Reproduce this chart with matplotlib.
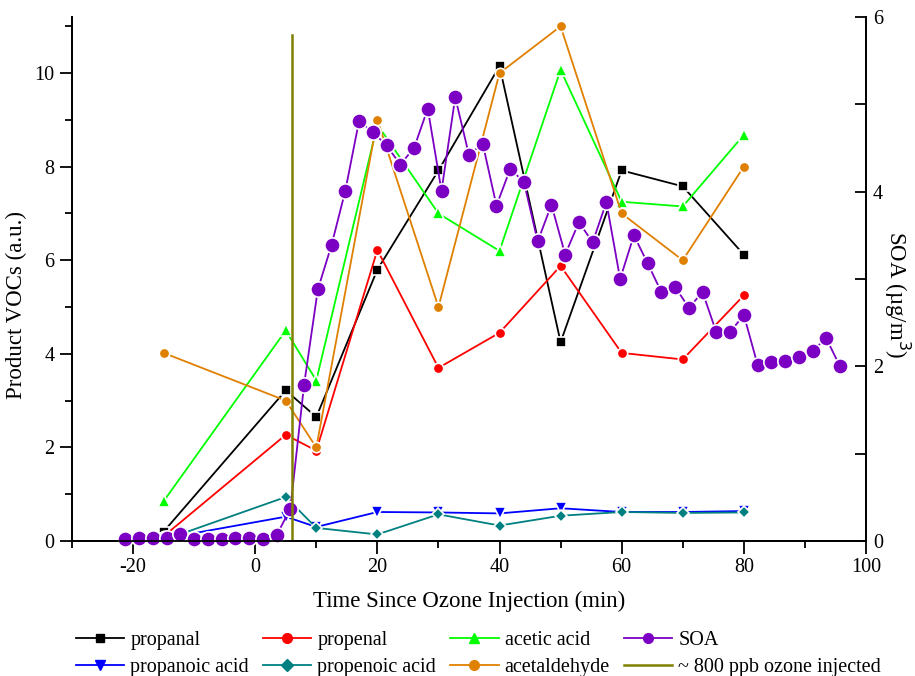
import numpy as np
import matplotlib.pyplot as plt
from matplotlib.lines import Line2D
from matplotlib.ticker import MultipleLocator

plt.rcParams['font.family'] = ['Liberation Serif', 'DejaVu Serif']

# VOC sampling times (min) and product signals (a.u.)
t_voc = [-15, 5, 10, 20, 30, 40, 50, 60, 70, 80]
propanal = [0.20, 3.22, 2.65, 5.80, 7.92, 10.15, 4.25, 7.92, 7.58, 6.12]
propenal = [0.10, 2.27, 1.93, 6.22, 3.70, 4.45, 5.88, 4.02, 3.88, 5.25]
acetic_acid = [0.85, 4.50, 3.43, 8.90, 7.00, 6.20, 10.07, 7.25, 7.15, 8.68]
acetaldehyde = [4.02, 3.00, 2.00, 9.00, 5.00, 10.00, 11.00, 7.00, 6.00, 8.00]
propanoic_acid = [0.05, 0.52, 0.30, 0.62, 0.61, 0.59, 0.70, 0.62, 0.62, 0.64]
propenoic_acid = [0.02, 0.94, 0.28, 0.14, 0.57, 0.33, 0.54, 0.62, 0.60, 0.61]

# SOA mass (ug/m3)
t_soa = [-21.25, -19.0, -16.75, -14.5, -12.25, -10.0, -7.75, -5.5, -3.25, -1.0,
         1.25, 3.5, 5.75, 8.0, 10.25, 12.5, 14.75, 17.0, 19.25, 21.5,
         23.75, 26.0, 28.25, 30.5, 32.75, 35.0, 37.25, 39.5, 41.75, 44.0,
         46.25, 48.5, 50.75, 53.0, 55.25, 57.5, 59.75, 62.0, 64.25, 66.5,
         68.75, 71.0, 73.25, 75.5, 77.75, 80.0, 82.25, 84.5, 86.75, 89.0,
         91.25, 93.5, 95.75]
soa = [0.02, 0.04, 0.04, 0.04, 0.08, 0.02, 0.02, 0.02, 0.04, 0.04,
       0.02, 0.065, 0.37, 1.79, 2.88, 3.39, 4.01, 4.81, 4.68, 4.53,
       4.31, 4.50, 4.95, 4.01, 5.08, 4.42, 4.55, 3.84, 4.26, 4.11,
       3.43, 3.85, 3.28, 3.65, 3.42, 3.88, 3.00, 3.50, 3.18, 2.85,
       2.91, 2.67, 2.85, 2.39, 2.39, 2.59, 2.02, 2.05, 2.06, 2.11,
       2.18, 2.32, 2.00]

ozone_time = 6

fig = plt.figure(figsize=(9.15, 6.76), dpi=100)
fig.subplots_adjust(left=0.0787, right=0.9464, bottom=0.1997, top=0.9749)
ax = fig.add_subplot(111)
ax2 = ax.twinx()

series = [
    (propanal, 'propanal', 'black', 's', 6.5),
    (propenal, 'propenal', '#FF0000', 'o', 7.5),
    (acetic_acid, 'acetic acid', '#00FF00', '^', 8.5),
    (propanoic_acid, 'propanoic acid', '#0000FF', 'v', 8.5),
    (propenoic_acid, 'propenoic acid', '#008080', 'D', 6.5),
    (acetaldehyde, 'acetaldehyde', '#E08000', 'o', 7.5),
]
for vals, name, col, mk, ms in series:
    ax.plot(t_voc, vals, color=col, lw=1.3, marker=mk, ms=ms,
            mec='white', mew=1.2, mfc=col, clip_on=False)

soa_col = '#7B00C4'
ax2.plot(t_soa, soa, color=soa_col, lw=1.3, marker='o', ms=11,
         mec='white', mew=1.2, mfc=soa_col, clip_on=False)
ax2.axvline(ozone_time, ymin=0, ymax=0.965, color='#808000', lw=1.8)

ax.set_xlim(-30, 100)
ax.set_ylim(0, 11.2)
ax2.set_ylim(0, 6)

ax.xaxis.set_major_locator(MultipleLocator(20))
ax.xaxis.set_minor_locator(MultipleLocator(10))
ax.yaxis.set_major_locator(MultipleLocator(2))
ax.yaxis.set_minor_locator(MultipleLocator(1))
ax2.yaxis.set_major_locator(MultipleLocator(2))
ax2.yaxis.set_minor_locator(MultipleLocator(1))

ax.tick_params(which='major', direction='out', length=9, width=1.3, labelsize=14.5)
ax.tick_params(which='minor', direction='out', length=5, width=1.3)
ax2.tick_params(which='both', direction='in', length=8, width=1.3, labelsize=14.5, pad=5)
ax.xaxis.set_major_formatter(plt.FuncFormatter(lambda v, p: '%d' % v))

for a in (ax, ax2):
    a.spines['top'].set_visible(False)
    for s in ('left', 'bottom', 'right'):
        a.spines[s].set_linewidth(1.3)

ax.set_xlabel('Time Since Ozone Injection (min)', fontsize=16.5)
ax.xaxis.set_label_coords(0.5, -0.095)
ax.set_ylabel('Product VOCs (a.u.)', fontsize=16.5)
ax.yaxis.set_label_coords(-0.057, 0.45)
ax2.set_ylabel('SOA (\u00b5g/m$^3$)', fontsize=16.5, rotation=-90, va='bottom')
ax2.yaxis.set_label_coords(1.02, 0.47)

handles = [
    Line2D([], [], color='black', marker='s', ms=6, lw=1.3),
    Line2D([], [], color='#0000FF', marker='v', ms=7, lw=1.3),
    Line2D([], [], color='#FF0000', marker='o', ms=7, lw=1.3),
    Line2D([], [], color='#008080', marker='D', ms=6, lw=1.3),
    Line2D([], [], color='#00FF00', marker='^', ms=7, lw=1.3),
    Line2D([], [], color='#E08000', marker='o', ms=7, lw=1.3),
    Line2D([], [], color=soa_col, marker='o', ms=7, lw=1.3),
    Line2D([], [], color='#808000', lw=1.8),
]
labels = ['propanal', 'propanoic acid', 'propenal', 'propenoic acid',
          'acetic acid', 'acetaldehyde', 'SOA', '~ 800 ppb ozone injected']
fig.legend(handles, labels, ncol=4, loc='center', bbox_to_anchor=(0.523, 0.032),
           frameon=False, fontsize=14.5, handlelength=2.4, handletextpad=0.3,
           columnspacing=0.7, labelspacing=0.4)

fig.savefig('out.png', dpi=100)
